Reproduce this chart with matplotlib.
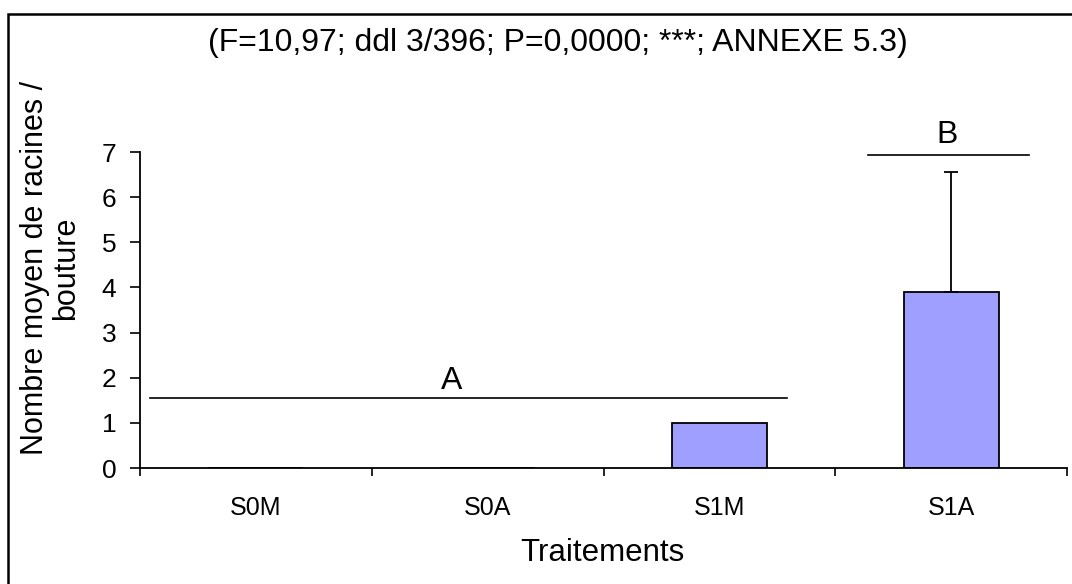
import numpy as np
import matplotlib
matplotlib.use('Agg')
import matplotlib.pyplot as plt
from matplotlib.patches import Rectangle

plt.rcParams['font.family'] = ['Liberation Sans', 'DejaVu Sans']

# data
traitements = ['S0M', 'S0A', 'S1M', 'S1A']
moyennes = [0.0, 0.0, 1.0, 3.9]
erreurs = [0.0, 0.0, 0.0, 2.66]
titre = '(F=10,97; ddl 3/396; P=0,0000; ***; ANNEXE 5.3)'
groupes = ['A', 'B']
groupe_debut = [-0.457, 2.642]
groupe_fin = [2.293, 3.336]
groupe_y = [1.55, 6.93]
lettre_x = [0.846, 2.982]
lettre_y = [1.93, 7.38]

fig = plt.figure(figsize=(10.72, 5.84), dpi=100)
ax = fig.add_axes([140 / 1072, 116 / 584, 927 / 1072, 316 / 584])

x = np.arange(len(traitements))
err = np.array(erreurs)
ax.bar(x, moyennes, width=0.41, color='#9f9fff', edgecolor='black', linewidth=1.3, zorder=2)
for i in range(len(x)):
    if err[i] > 0:
        ax.errorbar(x[i], moyennes[i], yerr=[[0], [err[i]]], fmt='none', ecolor='black',
                    elinewidth=1.3, capsize=5, capthick=1.3, zorder=3)

for i in range(len(groupes)):
    ax.plot([groupe_debut[i], groupe_fin[i]], [groupe_y[i], groupe_y[i]], color='black',
            lw=1.2, clip_on=False)
    ax.text(lettre_x[i], lettre_y[i], groupes[i], ha='center', va='center', fontsize=23,
            clip_on=False)

ax.set_xlim(-0.5, len(traitements) - 0.5)
ax.set_ylim(0, 7)
ax.set_yticks(range(0, 8))
ax.tick_params(axis='y', labelsize=19, length=7, width=1.2, direction='out', pad=10)
ax.set_xticks(np.arange(-0.5, len(traitements)), labels=[])
ax.set_xticks(x, labels=traitements, minor=True)
ax.tick_params(axis='x', which='major', length=6, width=1.2, direction='out')
ax.tick_params(axis='x', which='minor', length=0, labelsize=18, pad=20)
for s in ['top', 'right']:
    ax.spines[s].set_visible(False)
for s in ['left', 'bottom']:
    ax.spines[s].set_linewidth(1.3)

fig.text(602 / 1072, 1 - 553 / 584, 'Traitements', ha='center', va='center', fontsize=22.5)
fig.text(51 / 1072, 1 - 268 / 584, 'Nombre moyen de racines /\nbouture', ha='center',
         va='center', rotation=90, fontsize=22, linespacing=1.05)
fig.text(558 / 1072, 1 - 43 / 584, titre, ha='center', va='center', fontsize=23)

fig.patches.append(Rectangle((8 / 1072, -0.1), 1.2, 1.1 - 14 / 584, transform=fig.transFigure,
                             fill=False, edgecolor='black', lw=1.8))

fig.savefig('out.png', dpi=100, facecolor='white')
